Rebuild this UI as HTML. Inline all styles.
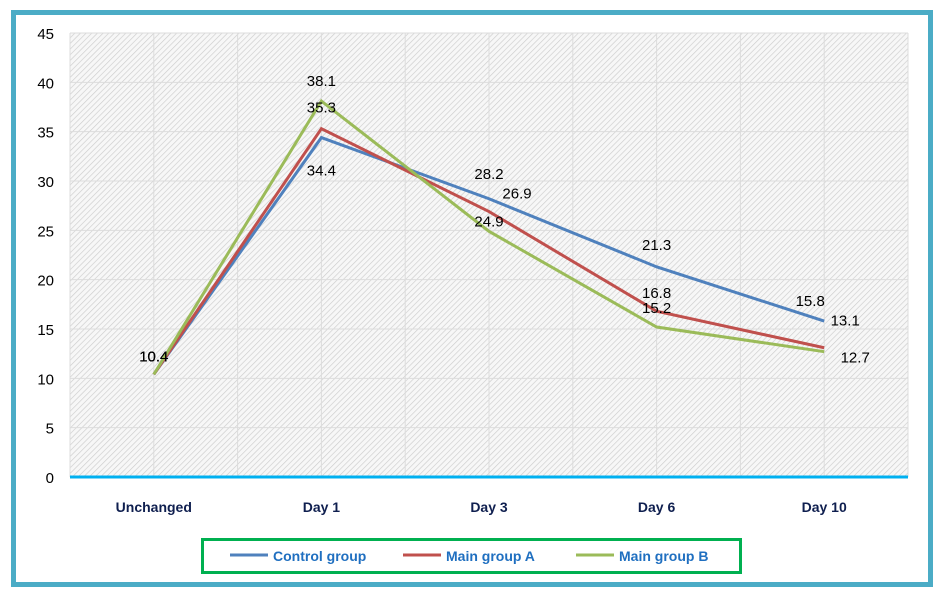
<!DOCTYPE html>
<html><head><meta charset="utf-8"><style>
body{margin:0;background:#fff;}
svg{display:block;font-family:"Liberation Sans",sans-serif;}
</style></head><body>
<svg id="chart" width="944" height="597">
<defs>
<pattern id="hatch" width="4" height="4" patternUnits="userSpaceOnUse" patternTransform="rotate(45)">
<rect width="4" height="4" fill="#f7f7f7"/><line x1="0" y1="0" x2="0" y2="4" stroke="#cccccc" stroke-width="1.3"/>
</pattern>
</defs>
<rect x="13.5" y="12.5" width="917" height="572" fill="#fff" stroke="#4BACC6" stroke-width="5"/>
<rect x="70" y="33" width="838" height="444" fill="url(#hatch)"/>
<g id="grid"></g><g id="yticks"></g><g id="xticks"></g><g id="series"></g><g id="labels"></g>
<line x1="70" y1="477" x2="908" y2="477" stroke="#00B0F0" stroke-width="3"/>
<g>
<rect x="202.5" y="539.5" width="538" height="33" fill="#fff" stroke="#00B050" stroke-width="3"/>
<g id="legend"></g>
</g>
</svg>
<script>
const categories=["Unchanged","Day 1","Day 3","Day 6","Day 10"];
const controlGroup=[10.4,34.4,28.2,21.3,15.8];
const mainGroupA=[10.4,35.3,26.9,16.8,13.1];
const mainGroupB=[10.4,38.1,24.9,15.2,12.7];
const yTicks=[0,5,10,15,20,25,30,35,40,45];
const seriesNames=["Control group","Main group A","Main group B"];
const colors=["#4F81BD","#C0504D","#9BBB59"];
const labelOffsets=[[[0,-18],[0,33],[0,-25],[0,-22],[-14,-20]],[[0,-18],[0,-21],[28,-18],[0,-18],[21,-27]],[[0,-18],[0,-20],[0,-10],[0,-19],[31,6]]];
const NS="http://www.w3.org/2000/svg";
const L=70,R=908,T=33,B=477,ymax=45;
const x=i=>L+(i+0.5)*(R-L)/categories.length;
const y=v=>B-v/ymax*(B-T);
function mk(tag,attrs,parent,text){const e=document.createElementNS(NS,tag);for(const k in attrs)e.setAttribute(k,attrs[k]);if(text!==undefined)e.textContent=text;parent.appendChild(e);return e;}
const grid=document.getElementById('grid');
yTicks.forEach(t=>{if(t>0){const l=mk('line',{x1:L,x2:R,y1:y(t),y2:y(t),stroke:'#dcdcdc','stroke-width':1},grid);

}
const tx=mk('text',{x:54,y:y(t)+6,'text-anchor':'end','font-size':15,fill:'#000'},document.getElementById('yticks'),t);

});
for(let k=0;k<=categories.length*2;k++){const gx=L+k*(R-L)/(categories.length*2);
const l=mk('line',{x1:gx,x2:gx,y1:T,y2:B,stroke:'#dcdcdc','stroke-width':1},grid);

}
categories.forEach((c,i)=>{const t=mk('text',{x:x(i),y:512,'text-anchor':'middle','font-size':14,'font-weight':'bold',fill:'#0F1F4F'},document.getElementById('xticks'),c);

});
const data=[controlGroup,mainGroupA,mainGroupB];
const sg=document.getElementById('series'),lg=document.getElementById('labels');
data.forEach((arr,s)=>{const p=mk('polyline',{points:arr.map((v,i)=>x(i)+','+y(v)).join(' '),fill:'none',stroke:colors[s],'stroke-width':3,'stroke-linejoin':'miter'},sg);


arr.forEach((v,i)=>{const o=labelOffsets[s][i];const t=mk('text',{x:x(i)+o[0],y:y(v)+o[1]+5,'text-anchor':'middle','font-size':15,fill:'#000'},lg,v.toFixed(1));

});});
const leg=document.getElementById('legend');const lx=[230,403,576];
seriesNames.forEach((n,s)=>{const l=mk('line',{x1:lx[s],x2:lx[s]+38,y1:555,y2:555,stroke:colors[s],'stroke-width':3},leg);


const t=mk('text',{x:lx[s]+43,y:561,'font-size':14,'font-weight':'bold',fill:'#1F6FC0'},leg,n);

});
</script>
</body></html>
